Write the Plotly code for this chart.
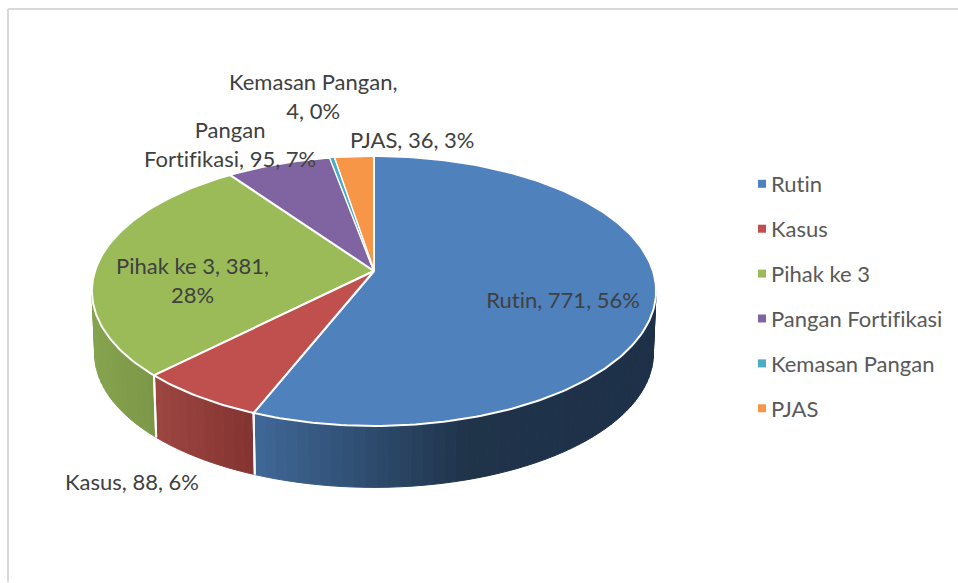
import math
import plotly.graph_objects as go

categories = ["Rutin", "Kasus", "Pihak ke 3", "Pangan Fortifikasi", "Kemasan Pangan", "PJAS"]
values = [771, 88, 381, 95, 4, 36]
colors = ["#4F81BD", "#C0504D", "#9BBB59", "#8064A2", "#4BACC6", "#F79646"]

# side shading: (colour at left end of the side, colour at right end)
side_stops = {
    "Rutin": [(257, "#3F6797"), (470, "#1F3349"), (656, "#1D3048")],
    "Kasus": [(158, "#9C4541"), (257, "#833330")],
    "Pihak ke 3": [(93, "#85A34E"), (158, "#7C9647")],
}

TOTAL = sum(values)
CX, CY = 374, 271
RX, RY, K = 279, 132, 0.148
DEPTH = 63
FONT = "Lato"


def project(phi_deg, bottom=False):
    p = math.radians(phi_deg)
    s, c = math.cos(p), math.sin(p)
    d = 1 + K * s
    scale = 0.99 if bottom else 1.0
    x = CX + RX * scale * c / d
    y = CY - RY * scale * s / d + (DEPTH if bottom else 0)
    return x, y


def hex_rgb(h):
    return tuple(int(h[i:i + 2], 16) for i in (1, 3, 5))


def shade(name, x):
    stops = side_stops[name]
    if x <= stops[0][0]:
        return stops[0][1]
    for (x0, c0), (x1, c1) in zip(stops, stops[1:]):
        if x <= x1:
            t = (x - x0) / (x1 - x0)
            a, b = hex_rgb(c0), hex_rgb(c1)
            return "rgb(%d,%d,%d)" % tuple(round(a[i] + (b[i] - a[i]) * t) for i in range(3))
    return stops[-1][1]


# slice angle spans, clockwise from the top
spans = []
acc = 0
for v in values:
    spans.append((acc / TOTAL * 360, (acc + v) / TOTAL * 360))
    acc += v

fig = go.Figure()

# legend entries
for name, col in zip(categories, colors):
    fig.add_trace(go.Scatter(x=[None], y=[None], mode="markers", name=name, legendgroup=name,
                             marker=dict(symbol="square", size=8, color=col)))

# visible side wall
VIS0, VIS1 = 98.5, 261.5
STEP = 2.0
for name, (a0, a1) in zip(categories, spans):
    lo, hi = max(a0, VIS0), min(a1, VIS1)
    if lo >= hi or name not in side_stops:
        continue
    n = max(1, int((hi - lo) / STEP))
    for i in range(n):
        p0 = lo + (hi - lo) * i / n
        p1 = lo + (hi - lo) * (i + 1) / n
        t0, t1 = project(p0), project(p1)
        b0, b1 = project(p0, True), project(p1, True)
        col = shade(name, (t0[0] + t1[0]) / 2)
        fig.add_trace(go.Scatter(x=[t0[0], t1[0], b1[0], b0[0], t0[0]],
                                 y=[t0[1], t1[1], b1[1], b0[1], t0[1]],
                                 mode="lines", fill="toself", fillcolor=col,
                                 line=dict(color=col, width=1), hoverinfo="skip", showlegend=False))

# white separators on the wall
for a0, a1 in spans:
    for a in (a0, a1):
        if VIS0 < a < VIS1:
            t, b = project(a), project(a, True)
            fig.add_trace(go.Scatter(x=[t[0], b[0]], y=[t[1], b[1]], mode="lines",
                                     line=dict(color="white", width=2),
                                     hoverinfo="skip", showlegend=False))

# top faces, largest first so the thinnest slice stays visible
for name, col, (a0, a1), v in sorted(zip(categories, colors, spans, values), key=lambda r: -r[3]):
    n = max(2, int((a1 - a0) / 1.0))
    pts = [project(a0 + (a1 - a0) * i / n) for i in range(n + 1)]
    xs = [CX] + [p[0] for p in pts] + [CX]
    ys = [CY] + [p[1] for p in pts] + [CY]
    fig.add_trace(go.Scatter(x=xs, y=ys, mode="lines", fill="toself", fillcolor=col,
                             line=dict(color="white", width=2 if a1 - a0 > 2 else 1),
                             name=name, text=f"{name}: {v}", hoverinfo="text", showlegend=False))

# data labels
pct = {n: round(v / TOTAL * 100) for n, v in zip(categories, values)}
val = dict(zip(categories, values))
labels = [
    ("Rutin", f"Rutin, {val['Rutin']}, {pct['Rutin']}%", 563, 299),
    ("Kasus", f"Kasus, {val['Kasus']}, {pct['Kasus']}%", 132, 481),
    ("Pihak ke 3", f"Pihak ke 3, {val['Pihak ke 3']},<br>{pct['Pihak ke 3']}%", 192, 280),
    ("Pangan Fortifikasi", f"Pangan<br>Fortifikasi, {val['Pangan Fortifikasi']}, {pct['Pangan Fortifikasi']}%", 230, 144),
    ("Kemasan Pangan", f"Kemasan Pangan,<br>{val['Kemasan Pangan']}, {pct['Kemasan Pangan']}%", 313, 96),
    ("PJAS", f"PJAS, {val['PJAS']}, {pct['PJAS']}%", 412, 139),
]
annotations = [dict(x=x, y=y, text=t, showarrow=False, xanchor="center", yanchor="middle",
                    font=dict(family=FONT, size=22, color="#404040"), align="center")
               for _, t, x, y in labels]

frame = [
    dict(type="line", xref="x", yref="y", x0=8, y0=9, x1=8, y1=582, line=dict(color="#D9D9D9", width=2)),
    dict(type="line", xref="x", yref="y", x0=8, y0=9, x1=958, y1=9, line=dict(color="#D9D9D9", width=2)),
]

fig.update_layout(
    width=958, height=583, margin=dict(l=0, r=0, t=0, b=0),
    paper_bgcolor="white", plot_bgcolor="white",
    xaxis=dict(range=[0, 958], visible=False, fixedrange=True),
    yaxis=dict(range=[583, 0], visible=False, fixedrange=True),
    shapes=frame, annotations=annotations,
    legend=dict(x=731 / 958, y=1 - 163 / 583, xanchor="left", yanchor="top",
                bgcolor="rgba(0,0,0,0)", tracegroupgap=13.3, traceorder="grouped",
                font=dict(family=FONT, size=22, color="#595959")),
    showlegend=True,
)

post = """
document.body.style.margin = '0';
document.documentElement.style.overflow = 'hidden';
var st = document.createElement('style');
st.textContent = 'svg text { font-variant-ligatures: none !important; font-feature-settings: "liga" 0, "clig" 0 !important; }';
document.head.appendChild(st);
function nudge() {
  document.querySelectorAll('.legendsymbols').forEach(function (g) {
    g.setAttribute('transform', 'translate(11,0)');
  });
}
nudge();
setTimeout(nudge, 50);
setTimeout(nudge, 300);
"""
fig.write_html("out.html", config=dict(displayModeBar=False), post_script=post)
